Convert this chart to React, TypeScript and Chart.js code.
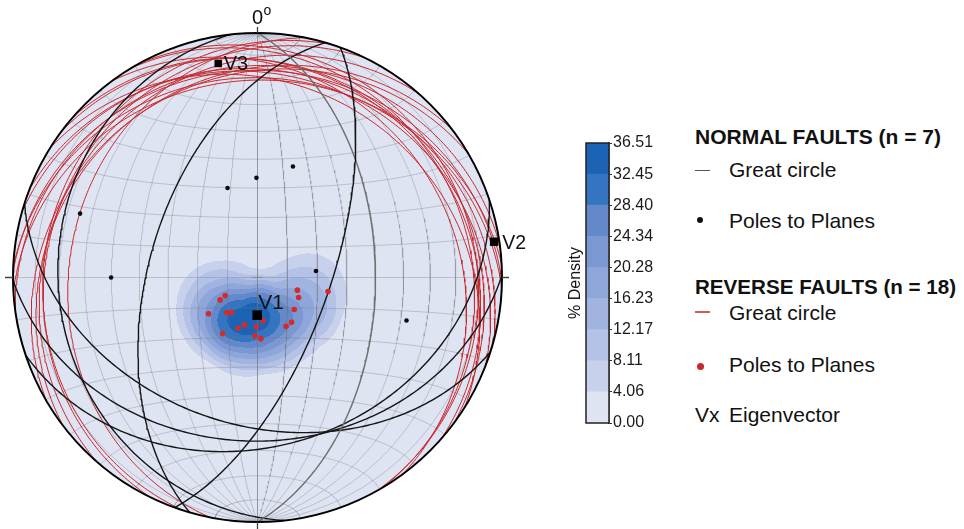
import React, { useEffect, useRef } from 'react';
import { Chart, registerables } from 'chart.js';

Chart.register(...registerables);

// ---------------- data ----------------
// Normal faults: poles to planes (trend / plunge, degrees)
const normalPoleTrend = [289.8, 270.0, 341.5, 359.4, 17.7, 83.7, 106.1];
const normalPolePlunge = [23.9, 39.9, 58.3, 56.5, 50.6, 70.4, 36.7];

// Reverse faults: poles to planes (trend / plunge, degrees)
const reversePoleTrend = [240.9, 239.1, 233.5, 221.2, 216.6, 212.0, 201.1, 195.4, 181.2, 172.5, 182.6, 176.8, 149.7, 142.7, 131.1, 116.0, 107.6, 101.2];
const reversePolePlunge = [77.7, 75.5, 69.7, 74.5, 75.5, 68.0, 71.9, 73.7, 73.6, 75.5, 70.6, 69.6, 71.2, 71.3, 73.8, 74.8, 76.1, 66.0];

// Eigenvectors of the reverse-fault poles
const eigenLabels = ['V1', 'V2', 'V3'];
const eigenTrend = [180.5, 81.4, 349.6];
const eigenPlunge = [77.5, 2.4, 12.0];

// Density colour scale
const densityLevels = [0, 4.06, 8.11, 12.17, 16.23, 20.28, 24.34, 28.4, 32.45, 36.51];
const densityTickLabels = ['0.00', '4.06', '8.11', '12.17', '16.23', '20.28', '24.34', '28.40', '32.45', '36.51'];

// net spacing (degrees)
const netSpacing = 10;

// ---------------- styles ----------------
const FONT = '"Liberation Sans", Arial, Helvetica, sans-serif';
const BG = '#dfe4f3';
const bandColors = ['#dfe4f3', '#c8d1ec', '#b3c2e6', '#a1b4e0', '#8fa6da', '#7c98d3', '#6489cb', '#3574c0', '#1c63b6'];
const normalCircleColors = ['#151515', '#707070', '#151515', '#151515', '#151515', '#151515', '#151515'];
const COUNT_CONE = 18; // smoothing cone half-angle (degrees)

// ---------------- projection helpers (equal-area, lower hemisphere) ----------------
const D2R = Math.PI / 180;
type P = { x: number; y: number };
function project(n: number, e: number, d: number): P {
  if (d < 0) { n = -n; e = -e; d = -d; }
  const s = 1 / Math.sqrt(1 + d);
  return { x: e * s, y: n * s };
}
function lineVec(trend: number, plunge: number): number[] {
  const t = trend * D2R, p = plunge * D2R;
  return [Math.cos(p) * Math.cos(t), Math.cos(p) * Math.sin(t), Math.sin(p)];
}
function planeCurve(dipDir: number, dip: number): P[] {
  const s = (dipDir - 90) * D2R, dd = dipDir * D2R, dp = dip * D2R;
  const S = [Math.cos(s), Math.sin(s), 0];
  const Dv = [Math.cos(dp) * Math.cos(dd), Math.cos(dp) * Math.sin(dd), Math.sin(dp)];
  const out: P[] = [];
  for (let k = 0; k <= 180; k += 1) {
    const f = k * D2R, c = Math.cos(f), sn = Math.sin(f);
    out.push(project(c * S[0] + sn * Dv[0], c * S[1] + sn * Dv[1], c * S[2] + sn * Dv[2]));
  }
  return out;
}
function smallCircleN(alpha: number): P[] {
  const a = alpha * D2R;
  const out: P[] = [];
  for (let k = 0; k <= 180; k += 1) {
    const b = k * D2R;
    out.push(project(Math.cos(a), Math.sin(a) * Math.cos(b), Math.sin(a) * Math.sin(b)));
  }
  return out;
}
function lineDs(data: P[], color: string, width: number, order: number) {
  return {
    type: 'scatter', data, showLine: true, pointRadius: 0, borderColor: color, borderWidth: width,
    fill: false, tension: 0, order, parsing: false,
  } as any;
}

// ---------------- plugins ----------------
const densityPlugin = {
  id: 'densityRaster',
  beforeDatasetsDraw(chart: any) {
    const { ctx, chartArea: ca, scales } = chart;
    const xs = scales.x, ys = scales.y;
    const cx = xs.getPixelForValue(0), cy = ys.getPixelForValue(0);
    const R = xs.getPixelForValue(1) - cx;
    ctx.save();
    ctx.beginPath();
    ctx.arc(cx, cy, R, 0, Math.PI * 2);
    ctx.fillStyle = BG;
    ctx.fill();
    ctx.clip();
    if (!chart.$densityCanvas) {
      const W = Math.ceil(ca.right - ca.left), H = Math.ceil(ca.bottom - ca.top);
      const off = document.createElement('canvas');
      off.width = W; off.height = H;
      const octx = off.getContext('2d')!;
      const img = octx.createImageData(W, H);
      const poles = reversePoleTrend.map((t, i) => lineVec(t, reversePolePlunge[i]));
      const c0 = Math.cos(COUNT_CONE * D2R);
      const vals = new Float32Array(W * H);
      let max = 0;
      for (let j = 0; j < H; j++) {
        const Y = ys.getValueForPixel(ca.top + j + 0.5);
        for (let i = 0; i < W; i++) {
          const X = xs.getValueForPixel(ca.left + i + 0.5);
          const r2 = X * X + Y * Y;
          if (r2 > 1) { vals[j * W + i] = -1; continue; }
          const d = 1 - r2, f = Math.sqrt(1 + d);
          const n = Y * f, e = X * f;
          let s = 0;
          for (const p of poles) {
            const c = Math.abs(n * p[0] + e * p[1] + d * p[2]);
            if (c > c0) s += (c - c0) / (1 - c0);
          }
          vals[j * W + i] = s;
          if (s > max) max = s;
        }
      }
      const top = densityLevels[densityLevels.length - 1];
      const cols = bandColors.map((c) => [parseInt(c.slice(1, 3), 16), parseInt(c.slice(3, 5), 16), parseInt(c.slice(5, 7), 16)]);
      for (let k = 0; k < W * H; k++) {
        const v = vals[k];
        if (v <= 0) continue;
        const lvl = (v / max) * top;
        let b = 0;
        for (let q = 1; q < densityLevels.length - 1; q++) if (lvl >= densityLevels[q]) b = q;
        if (b === 0) continue;
        img.data[k * 4] = cols[b][0];
        img.data[k * 4 + 1] = cols[b][1];
        img.data[k * 4 + 2] = cols[b][2];
        img.data[k * 4 + 3] = 255;
      }
      octx.putImageData(img, 0, 0);
      chart.$densityCanvas = off;
    }
    ctx.drawImage(chart.$densityCanvas, ca.left, ca.top);
    ctx.restore();
  },
};

const overlayPlugin = {
  id: 'netOverlay',
  afterDatasetsDraw(chart: any) {
    const { ctx, scales } = chart;
    const xs = scales.x, ys = scales.y;
    const cx = xs.getPixelForValue(0), cy = ys.getPixelForValue(0);
    const R = xs.getPixelForValue(1) - cx;
    ctx.save();
    // centre cross
    ctx.strokeStyle = '#8a8a8a';
    ctx.lineWidth = 1;
    ctx.beginPath();
    ctx.moveTo(cx - 5, cy); ctx.lineTo(cx + 5, cy);
    ctx.moveTo(cx, cy - 5); ctx.lineTo(cx, cy + 5);
    ctx.stroke();
    // primitive
    ctx.strokeStyle = '#000';
    ctx.lineWidth = 2;
    ctx.beginPath();
    ctx.arc(cx, cy, R, 0, Math.PI * 2);
    ctx.stroke();
    // cardinal ticks
    ctx.strokeStyle = '#444';
    ctx.lineWidth = 1.3;
    ctx.beginPath();
    ctx.moveTo(cx, cy - R); ctx.lineTo(cx, cy - R - 6);
    ctx.moveTo(cx, cy + R); ctx.lineTo(cx, cy + R + 7);
    ctx.moveTo(cx - R, cy); ctx.lineTo(cx - R - 8, cy);
    ctx.moveTo(cx + R, cy); ctx.lineTo(cx + R + 7, cy);
    ctx.stroke();
    // eigenvector labels
    const idx = chart.data.datasets.findIndex((d: any) => d.$eigen);
    if (idx >= 0) {
      const meta = chart.getDatasetMeta(idx);
      const offs = [[1, -6, 21], [8, 7, 19.5], [5.5, 7, 20]];
      meta.data.forEach((el: any, i: number) => {
        ctx.fillStyle = '#111';
        ctx.font = `${offs[i][2]}px ${FONT}`;
        ctx.textAlign = 'left';
        ctx.textBaseline = 'alphabetic';
        ctx.fillText(eigenLabels[i], el.x + offs[i][0], el.y + offs[i][1]);
      });
    }
    ctx.restore();
  },
};

function Stereonet() {
  const ref = useRef<HTMLCanvasElement>(null);
  useEffect(() => {
    const datasets: any[] = [];
    const gridColor = 'rgba(115,115,128,0.45)';
    for (let a = netSpacing; a < 90; a += netSpacing) {
      datasets.push(lineDs(planeCurve(90, a), gridColor, 0.75, 10));
      datasets.push(lineDs(planeCurve(270, a), gridColor, 0.75, 10));
    }
    datasets.push(lineDs(planeCurve(90, 90), gridColor, 0.75, 10));
    for (let a = netSpacing; a < 180; a += netSpacing) datasets.push(lineDs(smallCircleN(a), gridColor, 0.75, 10));
    reversePoleTrend.forEach((t, i) => {
      datasets.push(lineDs(planeCurve(t + 180, 90 - reversePolePlunge[i]), '#c9282c', 1, 4));
    });
    normalPoleTrend.forEach((t, i) => {
      datasets.push(lineDs(planeCurve(t + 180, 90 - normalPolePlunge[i]), normalCircleColors[i], 1.4, 3));
    });
    datasets.push({
      type: 'scatter', parsing: false, order: 1,
      data: normalPoleTrend.map((t, i) => { const v = lineVec(t, normalPolePlunge[i]); return project(v[0], v[1], v[2]); }),
      pointRadius: 2.3, backgroundColor: '#0a0a0a', borderWidth: 0,
    });
    datasets.push({
      type: 'scatter', parsing: false, order: 1,
      data: reversePoleTrend.map((t, i) => { const v = lineVec(t, reversePolePlunge[i]); return project(v[0], v[1], v[2]); }),
      pointRadius: 2.8, backgroundColor: '#d42a2c', borderWidth: 0,
    });
    datasets.push({
      type: 'scatter', parsing: false, order: 0, $eigen: true,
      data: eigenTrend.map((t, i) => { const v = lineVec(t, eigenPlunge[i]); return project(v[0], v[1], v[2]); }),
      pointStyle: 'rect', pointRadius: [6.8, 6.0, 5.3], backgroundColor: '#000', borderWidth: 0,
    });

    const chart = new Chart(ref.current!, {
      type: 'scatter',
      data: { datasets },
      options: {
        animation: false,
        responsive: false,
        events: [],
        layout: { padding: { left: 13, right: 58, top: 33, bottom: 7 } },
        plugins: { legend: { display: false }, tooltip: { enabled: false } },
        scales: {
          x: { type: 'linear', min: -1, max: 1, display: false },
          y: { type: 'linear', min: -1, max: 1, display: false },
        },
      } as any,
      plugins: [densityPlugin, overlayPlugin],
    });
    return () => chart.destroy();
  }, []);
  return <canvas ref={ref} width={560} height={529} style={{ position: 'absolute', left: 0, top: 0, width: 560, height: 529 }} />;
}

const framePlugin = {
  id: 'barFrame',
  afterDatasetsDraw(chart: any) {
    const { ctx, chartArea: ca } = chart;
    ctx.save();
    ctx.strokeStyle = '#222';
    ctx.lineWidth = 1.5;
    ctx.strokeRect(ca.left, ca.top, ca.right - ca.left, ca.bottom - ca.top);
    ctx.restore();
  },
};

function ColorBar() {
  const ref = useRef<HTMLCanvasElement>(null);
  useEffect(() => {
    const chart = new Chart(ref.current!, {
      type: 'bar',
      data: {
        labels: [''],
        datasets: bandColors.map((c, i) => ({
          data: [densityLevels[i + 1] - densityLevels[i]],
          backgroundColor: c, borderWidth: 0, barPercentage: 1, categoryPercentage: 1,
        })),
      },
      options: {
        animation: false,
        responsive: false,
        events: [],
        layout: { padding: { left: 26, right: 0, top: 23, bottom: 17 } },
        plugins: { legend: { display: false }, tooltip: { enabled: false } },
        scales: {
          x: { display: false, stacked: true },
          y: {
            stacked: true, position: 'right', min: 0, max: densityLevels[densityLevels.length - 1],
            afterBuildTicks: (s: any) => { s.ticks = densityLevels.map((v) => ({ value: v })); },
            afterFit: (s: any) => { s.width = 61; },
            ticks: {
              autoSkip: false,
              callback: (_v: any, i: number) => densityTickLabels[i],
              font: { family: FONT, size: 16 }, color: '#1a1a1a', padding: 1,
            },
            grid: { drawOnChartArea: false, drawTicks: true, tickLength: 3, color: '#333' },
            border: { display: true, color: '#222', width: 1.5 },
          },
        },
      } as any,
      plugins: [framePlugin],
    });
    return () => chart.destroy();
  }, []);
  return <canvas ref={ref} width={110} height={320} style={{ position: 'absolute', left: 560, top: 120, width: 110, height: 320 }} />;
}

const txt = (left: number, top: number, size: number, bold = false): React.CSSProperties => ({
  position: 'absolute', left, top, fontSize: size, lineHeight: `${size}px`, fontWeight: bold ? 700 : 400, whiteSpace: 'nowrap',
});

export default function App() {
  return (
    <div style={{ position: 'fixed', left: 0, top: 0, width: 964, height: 529, background: '#fff', overflow: 'hidden', fontFamily: FONT, color: '#111' }}>
      <Stereonet />
      <div style={txt(252, 6.5, 20)}>0</div>
      <div style={txt(263.5, 3, 14)}>o</div>
      <ColorBar />
      <div style={{ position: 'absolute', left: 575, top: 283, transform: 'translate(-50%, -50%) rotate(-90deg)', fontSize: 16, lineHeight: '16px', whiteSpace: 'nowrap' }}>% Density</div>

      <div style={txt(695, 125.5, 21, true)}>NORMAL FAULTS (n = 7)</div>
      <div style={{ position: 'absolute', left: 695, top: 169.5, width: 15, height: 1.5, background: '#555' }} />
      <div style={txt(729, 158.9, 21)}>Great circle</div>
      <div style={{ position: 'absolute', left: 697, top: 217, width: 6, height: 6, borderRadius: 3, background: '#111' }} />
      <div style={txt(729, 209.5, 21)}>Poles to Planes</div>

      <div style={txt(695, 277.2, 20.6, true)}>REVERSE FAULTS (n = 18)</div>
      <div style={{ position: 'absolute', left: 695, top: 311, width: 15, height: 1.5, background: '#d65a5a' }} />
      <div style={txt(729, 302.2, 21)}>Great circle</div>
      <div style={{ position: 'absolute', left: 696.5, top: 363, width: 7, height: 7, borderRadius: 3.5, background: '#c8282b' }} />
      <div style={txt(729, 353.9, 21)}>Poles to Planes</div>

      <div style={txt(695, 403.9, 21)}>Vx</div>
      <div style={txt(729, 403.9, 21)}>Eigenvector</div>
    </div>
  );
}
